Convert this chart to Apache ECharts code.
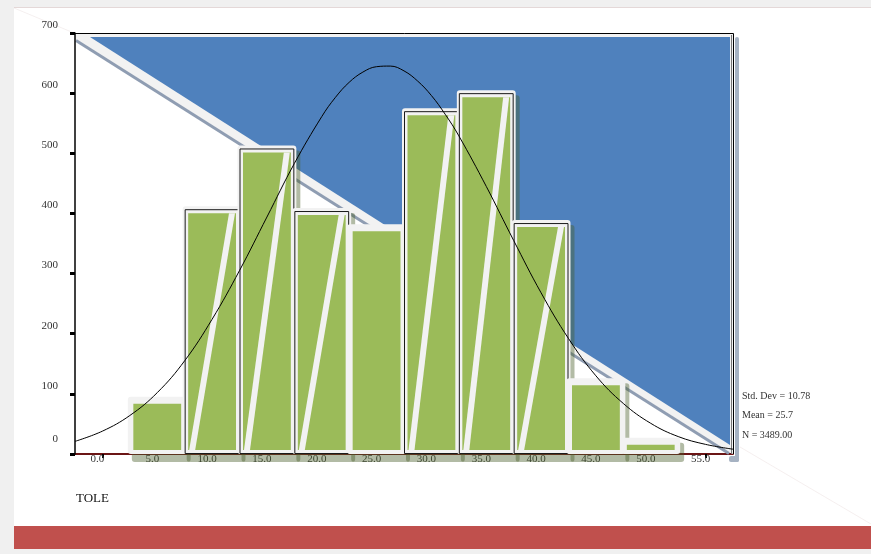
<!DOCTYPE html>
<html><head><meta charset="utf-8">
<script src="https://cdn.jsdelivr.net/npm/echarts@6/dist/echarts.min.js"></script>
<style>
html,body{margin:0;padding:0;background:#F0F0F0;width:871px;height:554px;overflow:hidden}
#panel{position:absolute;left:14px;top:7px;width:857px;height:519px;background:#fff;border-top:1px solid #E4D8D8;box-sizing:border-box}
#band{position:absolute;left:14px;top:526px;width:857px;height:23px;background:#C0504D}
#chart{position:absolute;left:0;top:0;width:871px;height:554px}
</style></head><body>
<div id="panel"></div><div id="band"></div><div id="chart"></div>
<script>
// ---- data ----
const binCenters = [5, 10, 15, 20, 25, 30, 35, 40, 45, 50];
const binWidth = 5;
const counts = [90, 407, 508, 404, 377, 570, 600, 384, 121, 22];
const curveX = [-2.5, 0, 2.5, 5, 7.5, 10, 12.5, 15, 17.5, 20, 21.25, 22.5, 23.75, 25, 26.25, 27.5, 28.75, 30, 31.25, 32.5, 35, 37.5, 40, 42.5, 45, 47.5, 50, 52.5, 55, 57.5];
const curveY = [21, 38, 64, 102, 155, 224, 305, 394, 483, 561, 593, 618, 635, 644, 645, 637, 620, 596, 565, 529, 445, 355, 268, 192, 130, 84, 51, 29, 16, 8];
const xTickValues = [0, 5, 10, 15, 20, 25, 30, 35, 40, 45, 50, 55];
const xTickMarks = [0, 55];
const statsLines = ['Std. Dev = 10.78', 'Mean = 25.7', 'N = 3489.00'];
const axisTitle = 'TOLE';

// ---- style ----
const framedBars = [false, true, true, true, false, true, true, true, false, false];
const FONT = '"Liberation Serif", "DejaVu Serif", serif';

const chart = echarts.init(document.getElementById('chart'), null, {renderer: 'canvas'});

function renderBackground(params, api) {
  const cs = params.coordSys;
  const X0 = cs.x, Y0 = cs.y, X1 = cs.x + cs.width, Y1 = cs.y + cs.height;
  return {
    type: 'group',
    children: [
      // frame shadow
      {type: 'rect', shape: {x: X1 + 2, y: Y0 + 4, width: 4, height: Y1 - Y0 + 4, r: 2}, style: {fill: '#A6B2C2'}},
      {type: 'rect', shape: {x: X1 - 4, y: Y1 + 2, width: 10, height: 6, r: 2}, style: {fill: '#A6B2C2'}},
      // light band triangle
      {type: 'polygon', shape: {points: [[X0, Y0], [X1, Y0], [X1, Y1], [X1 - 4, Y1 - 2], [X0, Y0 + 6]]}, style: {fill: '#F2F2F2'}},
      // gray diagonal line
      {type: 'line', shape: {x1: X0 + 1, y1: Y0 + 7.5, x2: X1 - 4, y2: Y1 - 0.5}, style: {stroke: '#8F9DB2', lineWidth: 3}},
      // blue triangle
      {type: 'polygon', shape: {points: [[X0 + 15, Y0 + 4], [X1 - 3, Y0 + 4], [X1 - 3, Y1 - 9]]}, style: {fill: '#4F81BD'}},
      // border top + right
      {type: 'polyline', shape: {points: [[X0, Y0 + 0.5], [X1 + 0.5, Y0 + 0.5], [X1 + 0.5, Y1]]}, style: {stroke: '#000', lineWidth: 1, fill: null}},
      {type: 'line', shape: {x1: X1 - 1.5, y1: Y0 + 2, x2: X1 - 1.5, y2: Y1}, style: {stroke: '#777', lineWidth: 1}}
    ]
  };
}

function renderBar(params, api) {
  const i = params.dataIndex;
  const c = api.value(0), v = api.value(1);
  const p0 = api.coord([c - binWidth / 2, v]);
  const p1 = api.coord([c + binWidth / 2, 0]);
  const x0 = p0[0], yt = p0[1], x1 = p1[0], yb = p1[1];
  const w = x1 - x0, h = yb - yt;
  const framed = framedBars[i];
  const children = [];
  children.push({type: 'rect', shape: {x: x0 + 2, y: yt + 2, width: w + 4, height: h + 6, r: 3}, style: {fill: 'rgba(72,92,40,0.42)'}});
  children.push({type: 'rect', shape: {x: x0 - 2, y: yt - 3, width: w + 4, height: h + 3, r: 3}, style: {fill: '#F2F2F2'}});
  if (framed) {
    children.push({type: 'rect', shape: {x: x0 + 0.5, y: yt + 0.5, width: w - 1, height: h - 1}, style: {fill: null, stroke: '#1a1a1a', lineWidth: 1}});
  }
  const gx0 = x0 + 3.5, gx1 = x1 - 3.5, gyt = yt + 4, gyb = yb - 4;
  children.push({type: 'rect', shape: {x: gx0, y: gyt, width: gx1 - gx0, height: Math.max(0, gyb - gyt)}, style: {fill: '#9BBB59'}});
  if (framed) {
    children.push({type: 'polygon', shape: {points: [[gx0 + 1, gyb], [gx0 + 7, gyb], [gx1 - 1, gyt], [gx1 - 7, gyt]]}, style: {fill: '#F2F2F2'}});
  }
  return {type: 'group', children};
}

const option = {
  animation: false,
  backgroundColor: 'transparent',
  grid: {left: 75, top: 33, right: 138, bottom: 100},
  xAxis: {
    type: 'value', min: -2.5, max: 57.5, z: 0,
    splitLine: {show: false},
    axisLine: {onZero: false, lineStyle: {color: '#6B1515', width: 2}},
    axisTick: {customValues: xTickMarks, length: 4, lineStyle: {color: '#000', width: 2}},
    axisLabel: {
      customValues: xTickValues, margin: 0,
      formatter: v => '{a|' + v.toFixed(1) + '}',
      rich: {a: {fontFamily: FONT, fontSize: 11, color: '#333', padding: [0, 10, 0, 0]}}
    }
  },
  yAxis: {
    type: 'value', min: 0, max: 700, interval: 100, z: 5,
    splitLine: {show: false},
    axisLine: {onZero: false, lineStyle: {color: '#000', width: 1.5}},
    axisTick: {length: 5, lineStyle: {color: '#000', width: 3}},
    axisLabel: {
      margin: 17,
      formatter: v => v === 0 ? '{z|0}' : '{a|' + v + '}',
      rich: {
        a: {fontFamily: FONT, fontSize: 11, color: '#333', padding: [0, 0, 16, 0]},
        z: {fontFamily: FONT, fontSize: 11, color: '#333', padding: [0, 0, 30, 0]}
      }
    }
  },
  graphic: [
    {type: 'line', z: -1, shape: {x1: 14, y1: 8, x2: 74, y2: 33}, style: {stroke: 'rgba(215,190,190,0.25)', lineWidth: 1}},
    {type: 'line', z: -1, shape: {x1: 740, y1: 447, x2: 871, y2: 524}, style: {stroke: 'rgba(215,190,190,0.25)', lineWidth: 1}},
    {type: 'text', x: 742, y: 396, style: {text: statsLines[0], font: '10px ' + FONT, fill: '#333', verticalAlign: 'middle'}},
    {type: 'text', x: 742, y: 415, style: {text: statsLines[1], font: '10px ' + FONT, fill: '#333', verticalAlign: 'middle'}},
    {type: 'text', x: 742, y: 435, style: {text: statsLines[2], font: '10px ' + FONT, fill: '#333', verticalAlign: 'middle'}},
    {type: 'text', x: 76, y: 499, style: {text: axisTitle, font: '13px ' + FONT, fill: '#111', verticalAlign: 'middle'}}
  ],
  series: [
    {type: 'custom', z: 1, silent: true, clip: false, renderItem: renderBackground, data: [[0, 0]]},
    {type: 'custom', z: 2, clip: false, renderItem: renderBar,
     data: binCenters.map((c, i) => [c, counts[i]])},
    {type: 'line', z: 10, smooth: 0.4, showSymbol: false, symbol: 'none',
     lineStyle: {color: '#000', width: 1},
     data: curveX.map((x, i) => [x, curveY[i]])}
  ]
};
chart.setOption(option);
</script>
</body></html>
